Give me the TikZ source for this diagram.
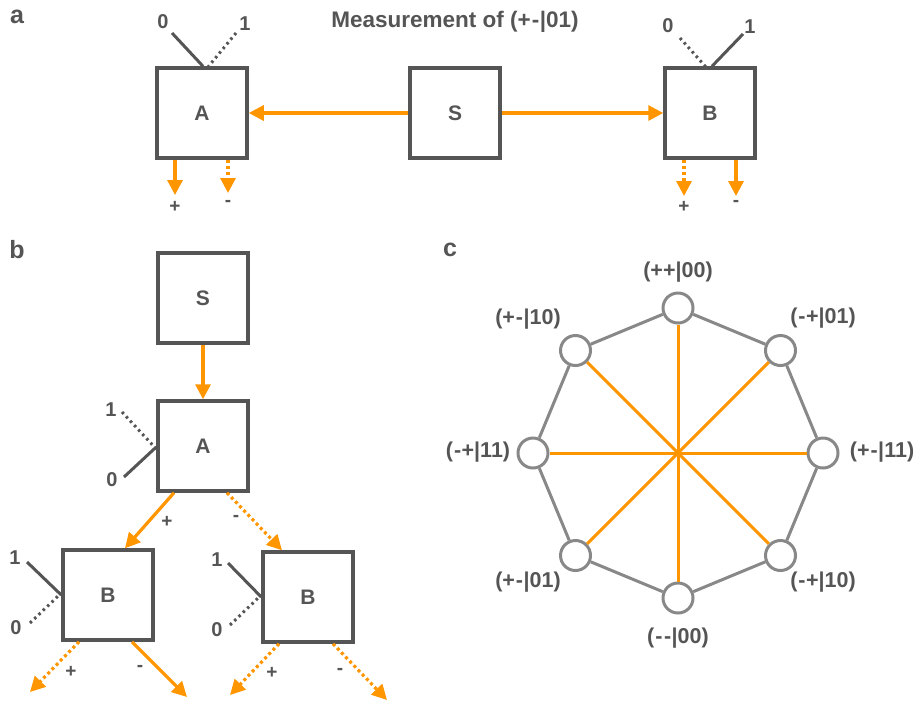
\documentclass[tikz,border=0pt]{standalone}
\usepackage{fontspec}
\setmainfont[Ligatures=NoCommon]{Liberation Sans}
\usetikzlibrary{arrows.meta}
\definecolor{og}{RGB}{255,150,0}
\definecolor{dg}{RGB}{85,85,85}
\definecolor{lg}{RGB}{136,136,136}
\newcommand{\mn}{\kern1pt-\kern0.5pt}
\begin{document}
\begin{tikzpicture}[x=1pt,y=-1pt,
 box/.style={draw=dg, line width=3.5pt, minimum size=90pt, inner sep=0pt, font=\fontsize{21}{25}\selectfont\bfseries, text=dg, fill=white},
 oarr/.style={draw=og, line width=3.2pt, -{Triangle[length=15pt,width=15pt]}},
 oarrd/.style={oarr, dash pattern=on 3pt off 3pt},
 ant/.style={draw=dg, line width=3pt},
 antd/.style={ant, dash pattern=on 2.5pt off 3.5pt},
 digit/.style={text=dg, font=\fontsize{20}{24}\selectfont\bfseries, inner sep=0pt},
 sgn/.style={text=dg, font=\fontsize{19}{22}\selectfont\bfseries, inner sep=0pt},
 panel/.style={text=dg, font=\fontsize{25}{30}\selectfont\bfseries, inner sep=0pt},
 ttl/.style={text=dg, font=\fontsize{22.5}{26}\selectfont\bfseries, inner sep=0pt},
 st/.style={circle, draw=lg, line width=3pt, fill=white, minimum size=30pt, inner sep=0pt},
 stl/.style={text=dg, font=\fontsize{21.5}{25}\selectfont\bfseries, inner sep=0pt},
 oct/.style={draw=lg, line width=3pt},
 spoke/.style={draw=og, line width=3pt}
]
\useasboundingbox[fill=white] (0,0) rectangle (920,705);

% ---------- panel a ----------
\node[panel] (la) at (17,17) {a};
\node[ttl] (title) at (455,22) {Measurement of (+\mn|01)};
\node[box] (A) at (202,113) {A};
\node[box] (S) at (455,113) {S};
\node[box] (B) at (710,113) {B};
\draw[oarr] (S) -- (A);
\draw[oarr] (S) -- (B);
% antenna A
\node[digit] (a0l) at (163,22) {0};
\node[digit] (a1l) at (245,24) {1};
\coordinate (a0) at (172,33);
\coordinate (a1) at (236,33);
\draw[ant] (a0) -- ([xshift=1pt]A.north);
\draw[antd] (a1) -- ([xshift=5pt,yshift=-2pt]A.north);
% antenna B
\node[digit] (b0l) at (668,26) {0};
\node[digit] (b1l) at (750,27) {1};
\coordinate (b0) at (680,38);
\coordinate (b1) at (743,34);
\draw[antd] (b0) -- ([xshift=-3pt,yshift=-2pt]B.north);
\draw[ant] (b1) -- ([xshift=2pt]B.north);
% outputs A
\coordinate (apo) at (175,195);
\coordinate (amo) at (228,193);
\draw[oarr] (A.south -| apo) -- (apo);
\draw[oarrd] (A.south -| amo) -- (amo);
\node[sgn] (ap) at (175,207) {+};
\node[sgn] (am) at (228,203) {-};
% outputs B
\coordinate (bpo) at (684,196);
\coordinate (bmo) at (736,196);
\draw[oarrd] (B.south -| bpo) -- (bpo);
\draw[oarr] (B.south -| bmo) -- (bmo);
\node[sgn] (bp) at (684,207) {+};
\node[sgn] (bm) at (736,203) {-};

% ---------- panel b ----------
\node[panel] (lb) at (17,250) {b};
\node[box] (S2) at (203,298) {S};
\node[box] (A2) at (203,446) {A};
\draw[oarr] (S2) -- (A2);
\node[digit] (a21l) at (111,410) {1};
\node[digit] (a20l) at (112,480) {0};
\coordinate (a21) at (122,412);
\coordinate (a20) at (124,477);
\draw[antd] (a21) -- ([yshift=-3pt]A2.west);
\draw[ant] (a20) -- ([yshift=-1pt]A2.west);
\node[box] (B1) at (108,595) {B};
\node[box] (B2) at (308,597) {B};
\draw[oarr] ([xshift=-29pt]A2.south) -- ([xshift=17pt]B1.north);
\draw[oarrd] ([xshift=24pt]A2.south) -- ([xshift=-26pt]B2.north);
\node[sgn] (a2p) at (167,522) {+};
\node[sgn] (a2m) at (236,518) {-};
% antenna B1
\node[digit] (b11l) at (15,558) {1};
\node[digit] (b10l) at (16,628) {0};
\coordinate (b11) at (27,562);
\coordinate (b10) at (30,623);
\draw[ant] (b11) -- (B1.west);
\draw[antd] (b10) -- ([yshift=2pt]B1.west);
% antenna B2
\node[digit] (b21l) at (217,560) {1};
\node[digit] (b20l) at (217,630) {0};
\coordinate (b21) at (228,563);
\coordinate (b20) at (230,625);
\draw[ant] (b21) -- (B2.west);
\draw[antd] (b20) -- ([yshift=2pt]B2.west);
% outputs B1
\coordinate (b1po) at (30,692);
\coordinate (b1mo) at (187,697);
\draw[oarrd] ([xshift=-29pt]B1.south) -- (b1po);
\draw[oarr] ([xshift=24pt]B1.south) -- (b1mo);
\node[sgn] (b1p) at (71,672) {+};
\node[sgn] (b1m) at (140,668) {-};
% outputs B2
\coordinate (b2po) at (230,695);
\coordinate (b2mo) at (387,700);
\draw[oarrd] ([xshift=-29pt]B2.south) -- (b2po);
\draw[oarrd] ([xshift=25pt]B2.south) -- (b2mo);
\node[sgn] (b2p) at (272,673) {+};
\node[sgn] (b2m) at (340,671) {-};

% ---------- panel c ----------
\node[panel] (lc) at (450,250) {c};
\node[st] (n0) at (678,308) {};
\node[st] (n1) at (780.5,350.5) {};
\node[st] (n2) at (823,453) {};
\node[st] (n3) at (780.5,555.5) {};
\node[st] (n4) at (678,598) {};
\node[st] (n5) at (575.5,555.5) {};
\node[st] (n6) at (533,453) {};
\node[st] (n7) at (575.5,350.5) {};
\foreach \i/\j in {0/1,1/2,2/3,3/4,4/5,5/6,6/7,7/0} \draw[oct] (n\i) -- (n\j);
\foreach \i/\j in {0/4,1/5,2/6,3/7} \draw[spoke] (n\i) -- (n\j);
\node[stl] (t0) at (678,272) {(++|00)};
\node[stl] (t1) at (823,318) {(\mn+|01)};
\node[stl] (t2) at (882,452) {(+\mn|11)};
\node[stl] (t3) at (823,582) {(\mn+|10)};
\node[stl] (t4) at (678,638) {(\mn\mn|00)};
\node[stl] (t5) at (528,582) {(+\mn|01)};
\node[stl] (t6) at (478,452) {(\mn+|11)};
\node[stl] (t7) at (528,319) {(+\mn|10)};
\end{tikzpicture}
\end{document}
